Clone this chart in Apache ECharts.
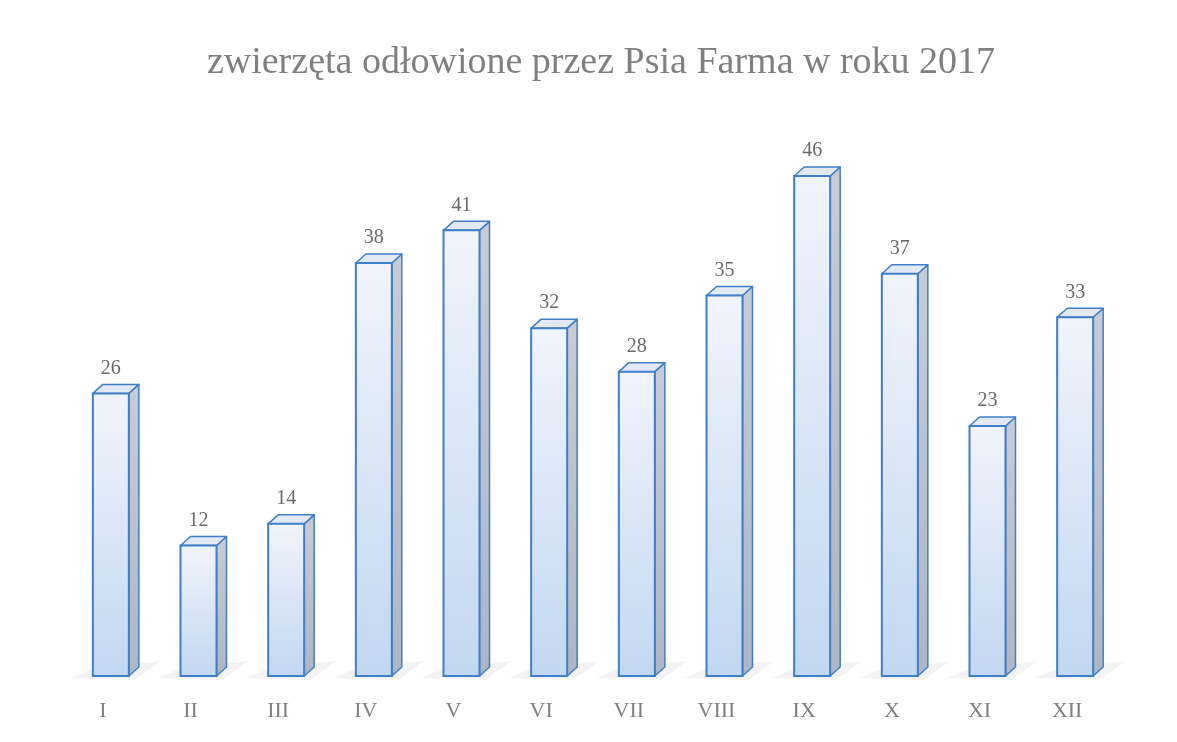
<!DOCTYPE html>
<html>
<head>
<meta charset="utf-8">
<script src="https://cdn.jsdelivr.net/npm/echarts@6/dist/echarts.min.js"></script>
<style>html,body{margin:0;padding:0;background:#fff;}#c{width:1177px;height:742px;}</style>
</head>
<body>
<div id="c"></div>
<script>
const titleText = 'zwierzęta odłowione przez Psia Farma w roku 2017';
const categories = ['I','II','III','IV','V','VI','VII','VIII','IX','X','XI','XII'];
const values = [26, 12, 14, 38, 41, 32, 28, 35, 46, 37, 23, 33];

const chart = echarts.init(document.getElementById('c'), null, {renderer: 'canvas'});
const serif = '"Liberation Serif", "DejaVu Serif", serif';

function renderItem(params, api) {
  const idx = api.value(0);
  const v = api.value(1);
  const base = api.coord([idx, 0]);
  const topPt = api.coord([idx, v]);
  const cx = base[0];
  const by = base[1];
  const ty = topPt[1];
  const fl = cx - 10, fr = cx + 26, d = 10, dy = 9;
  const stroke = '#3f7fc9';
  return {
    type: 'group',
    children: [
      {
        type: 'polygon',
        shape: {points: [[fl - 22, by + 2], [fl - 4, by - 6], [fr + d + 22, by - dy - 6], [fr + 6, by + 4]]},
        style: {fill: 'rgba(160,160,165,0.12)'},
        z2: 0
      },
      {
        type: 'polygon',
        shape: {points: [[fr, ty], [fr + d, ty - dy], [fr + d, by - dy], [fr, by]]},
        style: {
          fill: new echarts.graphic.LinearGradient(0, 0, 0, 1, [
            {offset: 0, color: '#c9ccd6'}, {offset: 1, color: '#aeb5c4'}
          ]),
          stroke: stroke, lineWidth: 1.5, lineJoin: 'round'
        },
        z2: 1
      },
      {
        type: 'polygon',
        shape: {points: [[fl, ty], [fl + d, ty - dy], [fr + d, ty - dy], [fr, ty]]},
        style: {fill: '#e2e8f4', stroke: stroke, lineWidth: 1.5, lineJoin: 'round'},
        z2: 1
      },
      {
        type: 'rect',
        shape: {x: fl, y: ty, width: fr - fl, height: by - ty},
        style: {
          fill: new echarts.graphic.LinearGradient(0, 0, 0, 1, [
            {offset: 0, color: '#f1f4fb'}, {offset: 1, color: '#c2d7f1'}
          ]),
          stroke: stroke, lineWidth: 2
        },
        z2: 2
      },
      {
        type: 'text',
        x: cx + 8,
        y: ty - dy - 6,
        style: {
          text: String(v),
          textAlign: 'center',
          textVerticalAlign: 'bottom',
          font: '20px ' + serif,
          fill: '#6a6a6a'
        },
        z2: 3
      }
    ]
  };
}

chart.setOption({
  backgroundColor: '#ffffff',
  animation: false,
  title: {
    text: titleText,
    left: 596,
    textAlign: 'center',
    top: 39,
    textStyle: {fontFamily: serif, fontSize: 38, fontWeight: 'normal', color: '#808080'}
  },
  grid: {left: 59, right: 66, top: 132.5, bottom: 66},
  xAxis: {
    type: 'category',
    data: categories,
    axisLine: {show: false},
    axisTick: {show: false},
    axisLabel: {
      fontFamily: serif, fontSize: 22, color: '#808080', margin: 24
    }
  },
  yAxis: {
    type: 'value', min: 0, max: 50, interval: 10,
    show: false
  },
  series: [{
    type: 'custom',
    renderItem: renderItem,
    encode: {x: 0, y: 1},
    data: values.map((v, i) => [i, v])
  }]
});
</script>
</body>
</html>
